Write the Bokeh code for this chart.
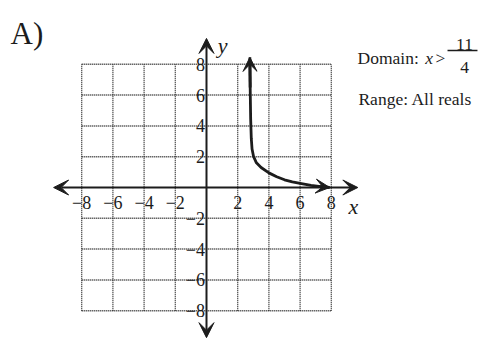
from bokeh.plotting import figure
from bokeh.models import Arrow, VeeHead, Range1d
from bokeh.core.properties import value
from bokeh.embed import file_html
from bokeh.resources import INLINE

# ---- data ----
curve_x = [2.78, 2.80, 2.83, 2.87, 2.92, 3.02, 3.2, 3.5, 4.0, 4.5, 5.0, 5.5, 6.0, 6.7, 7.2, 7.9]
curve_y = [8.45, 6.5, 4.5, 3.2, 2.5, 2.0, 1.6, 1.3, 0.95, 0.7, 0.5, 0.36, 0.27, 0.14, 0.07, 0.0]
x_tick_vals = [-8, -6, -4, -2, 2, 4, 6, 8]
x_tick_text = ["−8", "−6", "−4", "−2", "2", "4", "6", "8"]
y_tick_vals = [8, 6, 4, 2, -2, -4, -6, -8]
y_tick_text = ["8", "6", "4", "2", "−2", "−4", "−6", "−8"]
grid_vals = [-8, -6, -4, -2, 2, 4, 6, 8]
grid_lo, grid_hi = -8, 8
title_text = "A)"
domain_text = "Domain:"
domain_var = "x"
domain_op = ">"
frac_num = "11"
frac_den = "4"
range_text = "Range: All reals"

SERIF = value("Liberation Serif")
INK = "#1c1c1c"

# page pixel (px, py) -> data: x = (px - 206) / 15.6, y = (187 - py) / 15.4
p = figure(width=479, height=339, output_backend="svg", toolbar_location=None,
           x_range=Range1d(-13.205, 17.500), y_range=Range1d(-9.870, 12.143),
           min_border=0, outline_line_color=None)
p.axis.visible = False
p.grid.visible = False
p.background_fill_color = "white"
p.border_fill_color = "white"

# dotted grid, including the frame at +-8
p.multi_line(xs=[[v, v] for v in grid_vals], ys=[[grid_lo, grid_hi] for v in grid_vals],
             line_color="#222222", line_width=1.3, line_dash="1 1")
p.multi_line(xs=[[grid_lo, grid_hi] for v in grid_vals], ys=[[v, v] for v in grid_vals],
             line_color="#222222", line_width=1.5, line_dash="1 1")

# axes with arrowheads on both ends
def axis_arrow(x0, y0, x1, y1):
    p.add_layout(Arrow(x_start=x0, y_start=y0, x_end=x1, y_end=y1,
                       line_color=INK, line_width=2,
                       start=VeeHead(size=15, fill_color=INK, line_color=INK, line_width=1),
                       end=VeeHead(size=15, fill_color=INK, line_color=INK, line_width=1)))

axis_arrow(-9.8, 0, 9.7, 0)
axis_arrow(0, -9.75, 0, 9.68)

# curve
p.line(curve_x, curve_y, line_color=INK, line_width=2.8)
p.add_layout(Arrow(x_start=curve_x[1], y_start=curve_y[1], x_end=curve_x[0], y_end=curve_y[0],
                   line_color=INK, line_width=2.8,
                   end=VeeHead(size=14, fill_color=INK, line_color=INK, line_width=1)))
p.add_layout(Arrow(x_start=curve_x[-2], y_start=curve_y[-2], x_end=curve_x[-1], y_end=curve_y[-1],
                   line_color=INK, line_width=2.8,
                   end=VeeHead(size=14, fill_color=INK, line_color=INK, line_width=1)))

# tick labels
p.text(x=x_tick_vals, y=[-0.95] * len(x_tick_vals), text=x_tick_text,
       text_font=SERIF, text_font_size="18px", text_color=INK,
       text_align="center", text_baseline="middle")
p.text(x=[-0.1] * len(y_tick_vals), y=y_tick_vals, text=y_tick_text,
       text_font=SERIF, text_font_size="18px", text_color=INK,
       text_align="right", text_baseline="middle")

# axis names
p.text(x=[1.03], y=[9.22], text=["y"], text_font=SERIF, text_font_style="italic",
       text_font_size="22px", text_color=INK, text_align="center", text_baseline="middle")
p.text(x=[9.42], y=[-1.23], text=["x"], text_font=SERIF, text_font_style="italic",
       text_font_size="22px", text_color=INK, text_align="center", text_baseline="middle")

# title and annotations
p.text(x=[-12.56], y=[10.0], text=[title_text], text_font=SERIF, text_font_size="31px",
       text_color=INK, text_align="left", text_baseline="alphabetic")
p.text(x=[9.68], y=[8.44], text=[domain_text], text_font=SERIF, text_font_size="17.5px",
       text_color=INK, text_align="left", text_baseline="alphabetic")
p.text(x=[14.03], y=[8.44], text=[domain_var], text_font=SERIF, text_font_style="italic",
       text_font_size="17.5px", text_color=INK, text_align="left", text_baseline="alphabetic")
p.text(x=[14.68], y=[8.44], text=[domain_op], text_font=SERIF,
       text_font_size="17.5px", text_color=INK, text_align="left", text_baseline="alphabetic")
p.text(x=[16.54], y=[9.29], text=[frac_num], text_font=SERIF,
       text_font_size="17.5px", text_color=INK, text_align="center", text_baseline="alphabetic")
p.line([15.45, 17.37], [8.90, 8.90], line_color=INK, line_width=1.4)
p.text(x=[16.54], y=[7.79], text=[frac_den], text_font=SERIF,
       text_font_size="17.5px", text_color=INK, text_align="center", text_baseline="alphabetic")
p.text(x=[9.74], y=[5.72], text=[range_text], text_font=SERIF,
       text_font_size="17.5px", text_color=INK, text_align="left", text_baseline="alphabetic")

open("out.html", "w").write(file_html(p, INLINE))
